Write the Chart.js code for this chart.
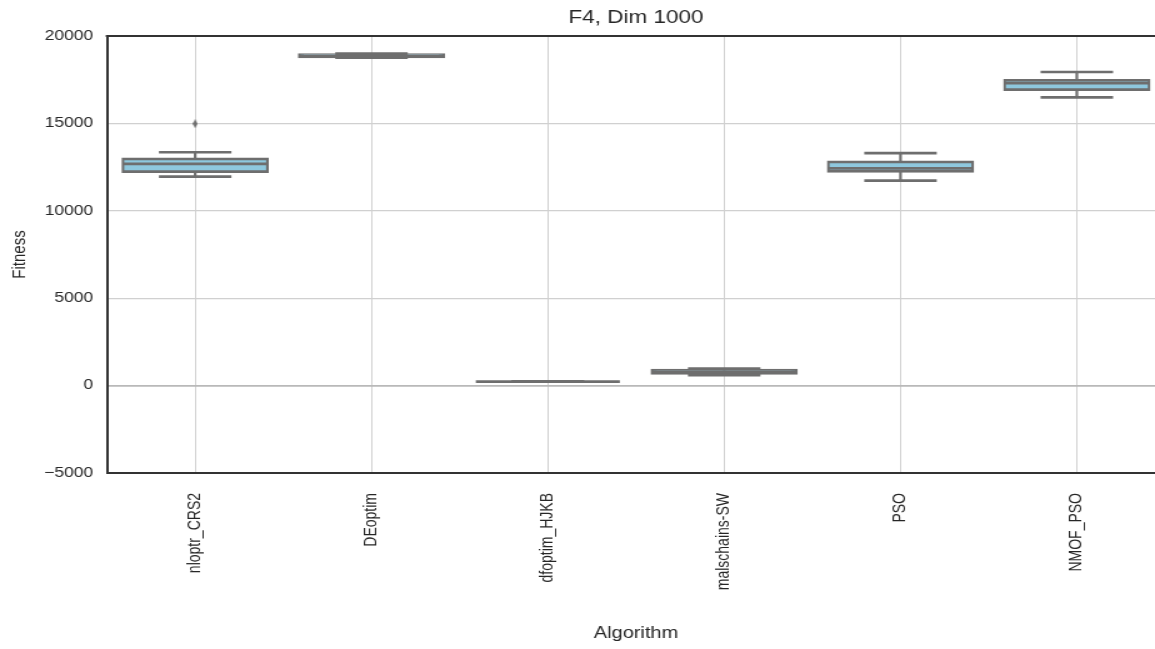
<!DOCTYPE html>
<html>
<head>
<meta charset="utf-8">
<script src="https://cdn.jsdelivr.net/npm/chart.js@4.4.1/dist/chart.umd.min.js"></script>
<style>
  html, body { margin: 0; padding: 0; background: #fff; overflow: hidden; width: 1155px; height: 649px; }
  #wrap { width: 932px; height: 649px; transform: scaleX(1.25); transform-origin: 0 0; }
</style>
</head>
<body>
<div id="wrap"><canvas id="chart" width="932" height="649"></canvas></div>
<script>
// values
const algorithms = ['nloptr_CRS2', 'DEoptim', 'dfoptim_HJKB', 'malschains-SW', 'PSO', 'NMOF_PSO'];
const whiskerLow  = [11950, 18760, 230, 600, 11730, 16490];
const quart1      = [12240, 18800, 230, 700, 12250, 16930];
const medians     = [12680, 18870, 230, 800, 12430, 17300];
const quart3      = [12970, 18940, 230, 890, 12800, 17470];
const whiskerHigh = [13350, 18990, 230, 970, 13300, 17940];
const outlierAlg  = ['nloptr_CRS2'];
const outlierVal  = [14980];
const yTicks = [-5000, 0, 5000, 10000, 15000, 20000];

const BOX_FILL = '#8ec8de';
const LINE = '#6e6e6e';
const SPINE = '#333333';
const TEXT = '#262626';
const FONT = "'Liberation Sans', Arial, sans-serif";

function thinDiamond(w, h, color) {
  const c = document.createElement('canvas');
  c.width = w; c.height = h;
  const g = c.getContext('2d');
  g.fillStyle = color;
  g.beginPath();
  g.moveTo(w / 2, 0); g.lineTo(w, h / 2); g.lineTo(w / 2, h); g.lineTo(0, h / 2);
  g.closePath(); g.fill();
  return c;
}

const topSpine = {
  id: 'topSpine',
  afterDraw(chart) {
    const { ctx, chartArea } = chart;
    ctx.save();
    ctx.strokeStyle = SPINE;
    ctx.lineWidth = 2;
    ctx.beginPath();
    ctx.moveTo(chartArea.left - 1, chartArea.top);
    ctx.lineTo(chartArea.right, chartArea.top);
    ctx.stroke();
    ctx.restore();
  }
};

const capStyle = {
  type: 'line', showLine: false, pointStyle: 'line',
  pointRadius: 29, pointHoverRadius: 29, pointBorderWidth: 2.7,
  pointBorderColor: LINE, pointBackgroundColor: LINE
};

function noPad(s) {
  s.paddingLeft = 0; s.paddingRight = 0; s.paddingTop = 0; s.paddingBottom = 0;
}

new Chart(document.getElementById('chart'), {
  type: 'bar',
  data: {
    labels: algorithms,
    datasets: [
      {
        label: 'whisker', order: 5, grouped: false,
        data: algorithms.map((_, i) => [whiskerLow[i], whiskerHigh[i]]),
        backgroundColor: LINE, borderWidth: 0, barThickness: 2.2, inflateAmount: 0
      },
      {
        label: 'box', order: 4, grouped: false,
        data: algorithms.map((_, i) => [quart1[i], quart3[i]]),
        backgroundColor: BOX_FILL, borderColor: LINE,
        borderWidth: { left: 2.2, right: 2.2, top: 2.7, bottom: 2.7 },
        borderSkipped: false, inflateAmount: 1.3,
        barPercentage: 0.817, categoryPercentage: 1
      },
      { label: 'max', order: 3, data: whiskerHigh, ...capStyle },
      { label: 'min', order: 3, data: whiskerLow, ...capStyle },
      { label: 'median', order: 2, data: medians, ...capStyle, pointRadius: 57.6, pointHoverRadius: 57.6 },
      {
        label: 'outliers', order: 1, type: 'line', showLine: false,
        data: outlierAlg.map((a, i) => ({ x: a, y: outlierVal[i] })),
        pointStyle: thinDiamond(4, 9, LINE)
      }
    ]
  },
  options: {
    responsive: false,
    animation: false,
    layout: { padding: 0, autoPadding: false },
    plugins: {
      legend: { display: false },
      tooltip: { enabled: false },
      title: { display: false }
    },
    scales: {
      x: {
        offset: true,
        grid: { offset: false, color: '#d0d0d0', lineWidth: 1, drawTicks: false },
        border: { color: SPINE, width: 2 },
        ticks: {
          autoSkip: false, maxRotation: 90, minRotation: 90, padding: 20,
          color: TEXT, font: { family: FONT, size: 14 }
        },
        title: {
          display: true, text: 'Algorithm', color: TEXT,
          font: { family: FONT, size: 16 }, padding: { top: 0, bottom: 6 }
        },
        afterFit: s => { s.height = 176; noPad(s); }
      },
      x2: {
        type: 'category', position: 'top', offset: true,
        grid: { display: false, drawTicks: false },
        border: { display: false },
        ticks: { display: false },
        title: {
          display: true, text: 'F4, Dim 1000', color: TEXT,
          font: { family: FONT, size: 18 }, padding: { top: 7.2, bottom: 0 }
        },
        afterFit: s => { s.height = 36; noPad(s); }
      },
      y: {
        min: -5000, max: 20000,
        afterBuildTicks: s => { s.ticks = yTicks.map(v => ({ value: v })); },
        grid: {
          drawTicks: false,
          color: c => c.tick && c.tick.value === 0 ? '#b9b9b9' : '#d0d0d0',
          lineWidth: c => c.tick && c.tick.value === 0 ? 1.8 : 1.2
        },
        border: { color: SPINE, width: 2 },
        ticks: {
          padding: 11, color: TEXT, font: { family: FONT, size: 14 },
          callback: v => v < 0 ? '\u2212' + Math.abs(v) : String(v)
        },
        title: {
          display: true, text: 'Fitness', color: TEXT,
          font: { family: FONT, size: 15 }, padding: { top: 7, bottom: 0 }
        },
        afterFit: s => { s.width = 85.6; noPad(s); }
      }
    }
  },
  plugins: [topSpine]
});
</script>
</body>
</html>
